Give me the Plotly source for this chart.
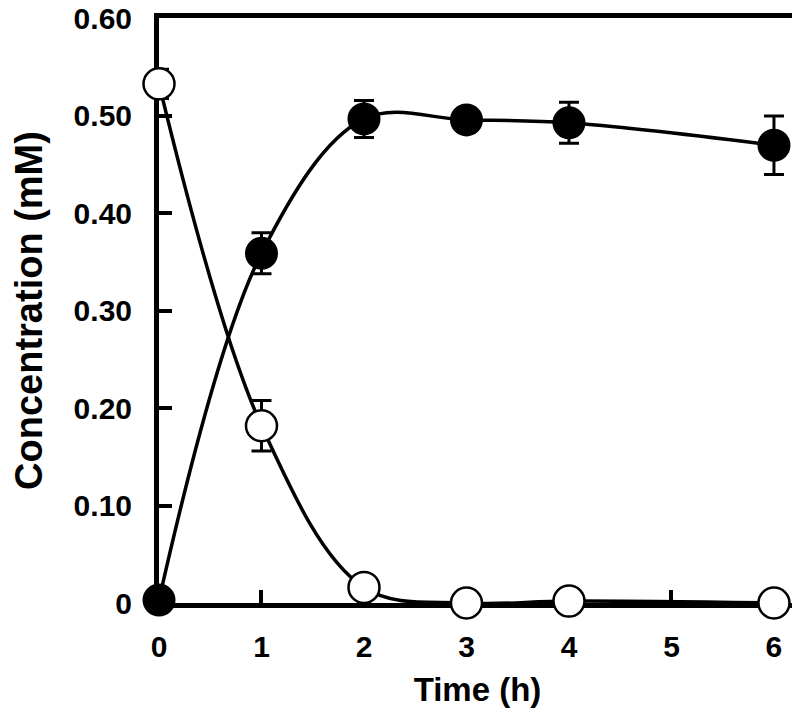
import plotly.graph_objects as go

time_h = [0, 1, 2, 3, 4, 6]
filled_vals = [0.003, 0.359, 0.497, 0.496, 0.493, 0.470]
filled_err = [0.0, 0.021, 0.019, 0.012, 0.021, 0.030]
open_vals = [0.533, 0.182, 0.016, 0.0, 0.002, 0.0]
open_err = [0.015, 0.026, 0.0, 0.0, 0.0, 0.0]

x_ticks = [0, 1, 2, 3, 4, 5, 6]
y_tickvals = [0, 0.1, 0.2, 0.3, 0.4, 0.5, 0.6]
y_ticktext = ["0", "0.10", "0.20", "0.30", "0.40", "0.50", "0.60"]

FONT = "Liberation Sans, Arial, sans-serif"

fig = go.Figure()

# smooth curves
fig.add_trace(go.Scatter(x=time_h, y=filled_vals, mode="lines",
                         line=dict(color="black", width=3.5, shape="spline", smoothing=1.0),
                         hoverinfo="skip", showlegend=False, cliponaxis=False))
fig.add_trace(go.Scatter(x=time_h, y=open_vals, mode="lines",
                         line=dict(color="black", width=3.5, shape="spline", smoothing=1.0),
                         hoverinfo="skip", showlegend=False, cliponaxis=False))

# markers with error bars
fig.add_trace(go.Scatter(x=time_h, y=filled_vals, mode="markers",
                         marker=dict(symbol="circle", size=31, color="black",
                                     line=dict(color="black", width=2)),
                         error_y=dict(type="data", array=filled_err, visible=True,
                                      color="black", thickness=3, width=10),
                         showlegend=False, cliponaxis=False))
fig.add_trace(go.Scatter(x=time_h, y=open_vals, mode="markers",
                         marker=dict(symbol="circle", size=31, color="white",
                                     line=dict(color="black", width=2.5)),
                         error_y=dict(type="data", array=open_err, visible=True,
                                      color="black", thickness=3, width=10),
                         showlegend=False, cliponaxis=False))

# the page body adds an 8px offset; margins compensate for it
fig.update_layout(
    width=800, height=719,
    margin=dict(l=151, r=12, t=10, b=124),
    paper_bgcolor="white", plot_bgcolor="white",
    font=dict(family=FONT, color="black", size=30, weight="bold"),
    xaxis=dict(range=[0, 6.215], tickvals=x_ticks, ticks="inside", ticklen=13,
               tickwidth=4, tickcolor="black", showline=True, linewidth=5,
               linecolor="black", mirror=True, showgrid=False, zeroline=False,
               ticklabelstandoff=13, layer="below traces", automargin=False,
               ticklabeloverflow="allow",
               tickfont=dict(family=FONT, size=30, weight="bold"),
               title=dict(text="Time (h)", standoff=17,
                          font=dict(family=FONT, size=33, weight="bold"))),
    yaxis=dict(range=[0, 0.6006], tickvals=y_tickvals, ticktext=y_ticktext,
               ticks="inside", ticklen=13, tickwidth=4, tickcolor="black",
               showline=True, linewidth=5, linecolor="black", mirror=True,
               showgrid=False, zeroline=False, ticklabelstandoff=16,
               layer="below traces", automargin=False,
               ticklabeloverflow="allow",
               tickfont=dict(family=FONT, size=30, weight="bold"),
               title=dict(text="Concentration (mM)", standoff=48,
                          font=dict(family=FONT, size=38, weight="bold"))),
)

fig.write_html("out.html")
